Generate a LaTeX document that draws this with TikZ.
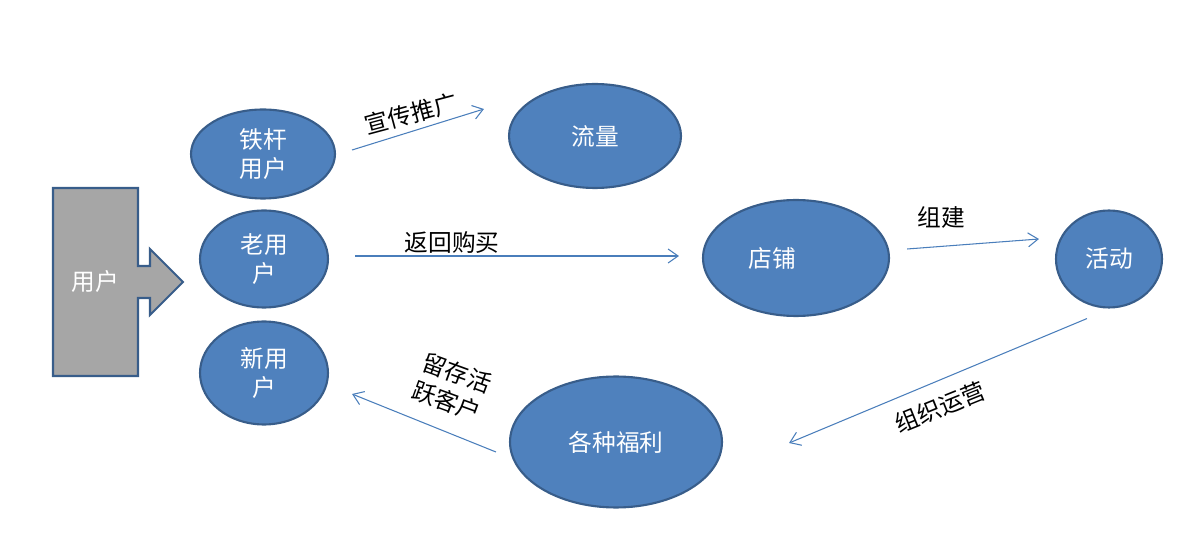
\documentclass[tikz,border=0pt]{standalone}
\usepackage{fontspec}
\usepackage{tikz}
\usetikzlibrary{shapes.geometric, arrows.meta, calc}
\setmainfont{Noto Sans CJK SC}

\definecolor{blobfill}{HTML}{4F81BD}
\definecolor{blobline}{HTML}{385D8A}
\definecolor{flowline}{HTML}{4A7EBB}
\definecolor{blockgray}{HTML}{A6A6A6}

\begin{document}
\begin{tikzpicture}[x=0.02cm, y=-0.02cm,
    blob/.style={ellipse, draw=blobline, fill=blobfill, line width=1.2pt,
                 inner sep=0pt, text=white, align=center,
                 font=\fontsize{13.5}{17}\selectfont},
    flow/.style={draw=flowline, line width=0.6pt,
                 -{Straight Barb[length=2mm, width=2.8mm]}},
    flowtxt/.style={text=black, align=center, inner sep=0pt,
                    font=\fontsize{13.5}{17}\selectfont}]

    % canvas
    \useasboundingbox (0,0) rectangle (1194,540);

    % ==========================================
    % user block arrow on the left
    % ==========================================
    \draw[fill=blockgray, draw=blobline, line width=1.2pt]
        (53,188) -- (138,188) -- (138,266) -- (150,266) -- (150,249)
        -- (183,282) -- (150,315) -- (150,298) -- (138,298) -- (138,376)
        -- (53,376) -- cycle;
    \node[flowtxt, text=white] (yonghu) at (95,282) {用户};

    % ==========================================
    % ellipses
    % ==========================================
    \node[blob, minimum width=2.88cm, minimum height=1.78cm] (tiegan)    at (263,154) {铁杆\\用户};
    \node[blob, minimum width=3.44cm, minimum height=2.08cm] (liuliang)  at (595,136) {流量};
    \node[blob, minimum width=2.56cm, minimum height=1.94cm] (laoyonghu) at (264,259) {老用\\户};
    \node[blob, minimum width=2.56cm, minimum height=2.06cm] (xinyonghu) at (264,373) {新用\\户};
    \node[blob, minimum width=3.72cm, minimum height=2.32cm,
          label={[text=white, xshift=-0.48cm, font=\fontsize{13.5}{17}\selectfont]center:店铺}]
          (dianpu) at (796,258) {};
    \node[blob, minimum width=2.12cm, minimum height=1.94cm] (huodong)   at (1109,259) {活动};
    \node[blob, minimum width=4.24cm, minimum height=2.62cm] (fuli)      at (616,442) {各种福利};

    % ==========================================
    % connectors
    % ==========================================
    \draw[flow] ($(tiegan.east)+(16,-4)$) -- ($(liuliang.west)+(-24,-27)$);
    \draw[flow] ($(laoyonghu.east)+(26,-3)$) -- ($(dianpu.west)+(-23,-2)$);
    \draw[flow] ($(dianpu.east)+(17,-9)$) -- ($(huodong.west)+(-16,-20)$);
    \draw[flow] ($(huodong.south)+(-22,10)$) -- ($(fuli.east)+(66,1)$);
    \draw[flow] ($(fuli.west)+(-13,10)$) -- ($(xinyonghu.east)+(23,21)$);

    % connector labels
    \node[flowtxt, rotate=15]  (xuanchuan) at (411,114) {宣传推广};
    \node[flowtxt]             (fanhui)    at (452,243) {返回购买};
    \node[flowtxt]             (zujian)    at (941,217) {组建};
    \node[flowtxt, rotate=22]  (zuzhi)     at (940,407) {组织运营};
    \node[flowtxt, rotate=-20] (liucun)    at (452,387) {留存活\\跃客户};

\end{tikzpicture}
\end{document}
